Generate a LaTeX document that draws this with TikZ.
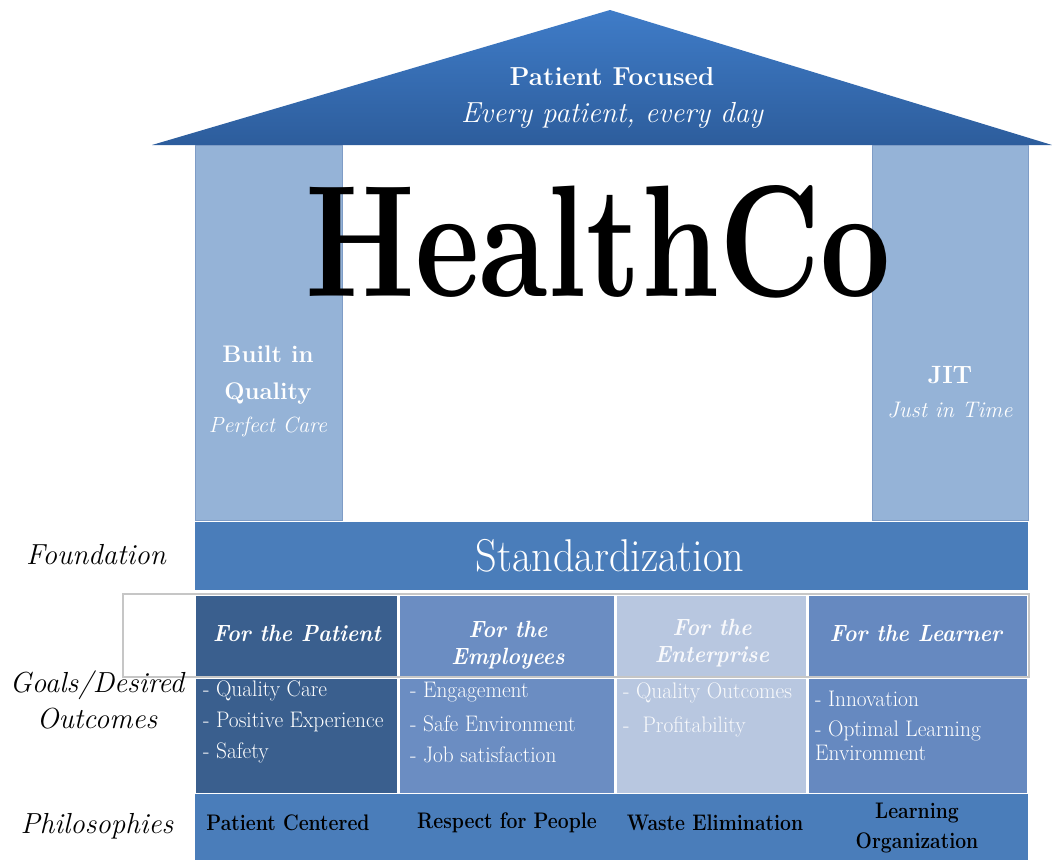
\documentclass[tikz,border=0pt]{standalone}
\usepackage{graphicx}
\definecolor{roofTop}{HTML}{3F7CC8}
\definecolor{roofBot}{HTML}{2D5D9C}
\definecolor{pillarC}{HTML}{95B3D7}
\definecolor{pillarB}{HTML}{7E9CC6}
\definecolor{barC}{HTML}{4A7DBA}
\definecolor{colA}{HTML}{3A5F8E}
\definecolor{colB}{HTML}{6B8DC2}
\definecolor{colC}{HTML}{B8C7E0}
\definecolor{colD}{HTML}{6689C0}
\tikzset{
  box/.style={rectangle, inner sep=0pt, anchor=north west},
  pillar/.style={box, fill=pillarC, draw=pillarB, line width=0.8pt},
  bar/.style={box, fill=barC},
  hdr/.style={text=white, font=\fontsize{23.5}{27}\selectfont\bfseries\itshape, align=center, xscale=0.92},
  bodytxt/.style={text=white, font=\fontsize{22.5}{26}\selectfont, anchor=west, inner sep=0pt, xscale=0.95},
  phil/.style={text=black, font=\fontsize{22.5}{30}\selectfont\bfseries, align=center, xscale=0.86},
  sidelbl/.style={text=black, font=\fontsize{29}{36}\selectfont\itshape, align=center}
}
\begin{document}
\begin{tikzpicture}[x=1pt,y=-1pt]
\useasboundingbox (0,0) rectangle (1052,860);
\fill[white] (0,0) rectangle (1052,860);

% roof
\shade[top color=roofTop, bottom color=roofBot] (152,145) -- (610,10) -- (1052,145) -- cycle;
\node[text=white, font=\fontsize{26}{30}\selectfont\bfseries] (roofA) at (612,77) {Patient Focused};
\node[text=white, font=\fontsize{29}{32}\selectfont\itshape] (roofB) at (612,115) {Every patient, every day};

% pillars
\node[pillar, minimum width=147pt, minimum height=375pt] (leftP) at (195,145) {};
\node[pillar, minimum width=156pt, minimum height=375pt] (rightP) at (872,145) {};
\node[text=white, font=\fontsize{24}{37}\selectfont\bfseries, align=center] (bq) at (268,375) {Built in\\Quality};
\node[text=white, font=\fontsize{22}{26}\selectfont\itshape] (pc) at (268,427) {Perfect Care};
\node[text=white, font=\fontsize{25}{28}\selectfont\bfseries] (jit) at (950,375) {JIT};
\node[text=white, font=\fontsize{22.5}{26}\selectfont\itshape] (jt) at (950,410) {Just in Time};

% title
\node[inner sep=0pt, anchor=south] (title) at (598,298) {\resizebox{585pt}{111pt}{\bfseries HealthCo}};

% foundation
\node[bar, minimum width=833pt, minimum height=68pt] (std) at (195,522) {};
\node[text=white, font=\fontsize{46}{50}\selectfont, xscale=0.92] (stdT) at (610,556) {Standardization};

% grey frame
\draw[gray!45, line width=1.2pt] (123,594) rectangle (1029,677);

% goal cells
\node[box, fill=colA, minimum width=201pt, minimum height=80pt] (h1) at (196,596) {};
\node[box, fill=colB, minimum width=214pt, minimum height=80pt] (h2) at (400,596) {};
\node[box, fill=colC, minimum width=189pt, minimum height=80pt] (h3) at (617,596) {};
\node[box, fill=colD, minimum width=218pt, minimum height=80pt] (h4) at (809,596) {};
\node[box, fill=colA, minimum width=201pt, minimum height=114pt] (b1) at (196,679) {};
\node[box, fill=colB, minimum width=214pt, minimum height=114pt] (b2) at (400,679) {};
\node[box, fill=colC, minimum width=189pt, minimum height=114pt] (b3) at (617,679) {};
\node[box, fill=colD, minimum width=218pt, minimum height=114pt] (b4) at (809,679) {};

\node[hdr] (h1t) at (297,633) {For the Patient};
\node[hdr] (h2t) at (508,645) {For the\\Employees};
\node[hdr, text=white!90!colC] (h3t) at (712,643) {For the\\Enterprise};
\node[hdr] (h4t) at (916,633) {For the Learner};

\node[bodytxt] (t11) at (203,691) {- Quality Care};
\node[bodytxt] (t12) at (203,722) {- Positive Experience};
\node[bodytxt] (t13) at (203,753) {- Safety};
\node[bodytxt] (t21) at (410,692) {- Engagement};
\node[bodytxt] (t22) at (410,724) {- Safe Environment};
\node[bodytxt] (t23) at (410,755) {- Job satisfaction};
\node[bodytxt, text=white!92!colC] (t31) at (623,693) {- Quality Outcomes};
\node[bodytxt, text=white!92!colC] (t32) at (623,727) {-\ \ Profitability};
\node[bodytxt] (t41) at (815,699) {- Innovation};
\node[bodytxt] (t42) at (815,731) {- Optimal Learning};
\node[bodytxt] (t43) at (815,753) {Environment};

% philosophies
\node[bar, minimum width=833pt, minimum height=66pt] (ph) at (195,794) {};
\node[phil] (p1) at (288,823) {Patient Centered};
\node[phil] (p2) at (507,823) {Respect for People};
\node[phil] (p3) at (715,823) {Waste Elimination};
\node[phil] (p4) at (917,828) {Learning\\Organization};

% side labels
\node[sidelbl] (sl1) at (96,555) {Foundation};
\node[sidelbl] (sl2) at (97,700) {Goals/Desired\\Outcomes};
\node[sidelbl] (sl3) at (97,826) {Philosophies};
\end{tikzpicture}
\end{document}
